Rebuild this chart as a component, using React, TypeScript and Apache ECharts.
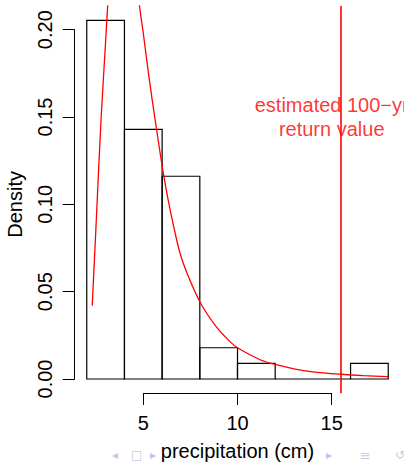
import React, { useEffect, useRef } from "react";
import * as echarts from "echarts";

// Histogram bins (precipitation, cm) and densities
const binEdges = [2, 4, 6, 8, 10, 12, 14, 16, 18];
const densities = [0.2054, 0.1429, 0.1161, 0.0179, 0.0089, 0, 0, 0.0089];

// Fitted density curve
const curveX = [2.29, 2.5, 2.755, 3.0, 3.11, 3.3, 3.5, 3.75, 4.0, 4.25, 4.5, 4.79, 5.0, 5.3, 5.62, 5.9, 6.06, 6.33, 6.6, 6.95, 7.4, 8.05, 8.9, 9.6, 10.04, 11.2, 11.9, 13.0, 14.0, 15.5, 16.7, 18.0];
const curveY = [0.042, 0.0895, 0.148, 0.193, 0.2136, 0.24, 0.26, 0.272, 0.273, 0.265, 0.24, 0.2142, 0.198, 0.173, 0.149, 0.129, 0.118, 0.102, 0.088, 0.072, 0.0585, 0.0432, 0.0295, 0.0214, 0.0176, 0.011, 0.0086, 0.0058, 0.0041, 0.0027, 0.0019, 0.0013];

// Estimated 100-year return value
const returnLevel = 15.49;
const annotation = { x: 15, y: 0.15, text: "estimated 100\u2212yr\nreturn value" };

const FONT = "Liberation Sans, Arial, Helvetica, sans-serif";

export default function App() {
  const ref = useRef<HTMLDivElement>(null);
  useEffect(() => {
    if (!ref.current) return;
    const chart = echarts.init(ref.current, undefined, { renderer: "svg" });
    const bins = densities.map((d, i) => [binEdges[i], binEdges[i + 1], d]);
    const curve = curveX.map((x, i) => [x, curveY[i]]);
    const navColor = "#c6c6e6";
    chart.setOption({
      animation: false,
      backgroundColor: "#ffffff",
      textStyle: { fontFamily: FONT },
      grid: [
        { left: 74.7, right: 3.7, top: 6, bottom: 68.7 },
        { left: 74.7, width: 1, top: 29.7, bottom: 83 },
        { left: 143.3, right: 72.3, top: 380, bottom: 68.7 },
      ],
      xAxis: [
        { gridIndex: 0, type: "value", min: 1.36, max: 18.64, show: false },
        { gridIndex: 1, type: "value", min: 0, max: 1, show: false },
        {
          gridIndex: 2,
          type: "value",
          min: 5,
          max: 15,
          interval: 5,
          axisLine: { show: true, onZero: false, lineStyle: { color: "#000", width: 1 } },
          axisTick: { show: true, length: 12, lineStyle: { color: "#000", width: 1 } },
          axisLabel: { fontSize: 20, color: "#000", margin: 20, fontFamily: FONT },
          splitLine: { show: false },
          name: "precipitation (cm)",
          nameLocation: "middle",
          nameGap: 48,
          nameTextStyle: { fontSize: 20, color: "#000", fontFamily: FONT },
        },
      ],
      yAxis: [
        { gridIndex: 0, type: "value", min: -0.0082, max: 0.2136, show: false },
        {
          gridIndex: 1,
          type: "value",
          min: 0,
          max: 0.2,
          interval: 0.05,
          axisLine: { show: true, onZero: false, lineStyle: { color: "#000", width: 1 } },
          axisTick: { show: true, length: 12, lineStyle: { color: "#000", width: 1 } },
          axisLabel: {
            fontSize: 20,
            color: "#000",
            rotate: 90,
            margin: 20,
            fontFamily: FONT,
            formatter: (v: number) => v.toFixed(2),
          },
          splitLine: { show: false },
          name: "Density",
          nameLocation: "middle",
          nameGap: 50,
          nameTextStyle: { fontSize: 20, color: "#000", fontFamily: FONT },
        },
        { gridIndex: 2, type: "value", min: 0, max: 1, show: false },
      ],
      series: [
        {
          type: "custom",
          xAxisIndex: 0,
          yAxisIndex: 0,
          data: bins,
          encode: { x: [0, 1], y: 2 },
          renderItem: (_p: any, api: any) => {
            const p0 = api.coord([api.value(0), 0]);
            const p1 = api.coord([api.value(1), api.value(2)]);
            return {
              type: "polygon",
              shape: {
                points: [
                  [p0[0], p0[1]],
                  [p0[0], p1[1]],
                  [p1[0], p1[1]],
                  [p1[0], p0[1]],
                ],
              },
              style: { fill: "none", stroke: "#000", lineWidth: 1.2 },
            };
          },
        },
        {
          type: "line",
          xAxisIndex: 0,
          yAxisIndex: 0,
          data: curve,
          showSymbol: false,
          symbol: "none",
          smooth: 0.3,
          clip: true,
          lineStyle: { color: "#ff0000", width: 1.3 },
          markLine: {
            silent: true,
            symbol: ["none", "none"],
            label: { show: false },
            lineStyle: { color: "#ff0000", width: 1.6, type: "solid" },
            data: [{ xAxis: returnLevel }],
          },
        },
        {
          type: "scatter",
          xAxisIndex: 0,
          yAxisIndex: 0,
          data: [[annotation.x, annotation.y]],
          symbolSize: 1,
          itemStyle: { color: "rgba(0,0,0,0)" },
          label: {
            show: true,
            position: "inside",
            formatter: annotation.text,
            color: "#ff0000",
            fontSize: 20,
            lineHeight: 24,
            fontFamily: FONT,
          },
        },
      ],
      graphic: [
        { type: "text", left: 112, top: 449, style: { text: "\u25C2", fontSize: 12, fill: navColor, fontFamily: "DejaVu Sans" } },
        { type: "text", left: 131, top: 449, style: { text: "\u25A1", fontSize: 12, fill: navColor, fontFamily: "DejaVu Sans" } },
        { type: "text", left: 150, top: 449, style: { text: "\u25B8", fontSize: 12, fill: navColor, fontFamily: "DejaVu Sans" } },
        { type: "text", left: 326, top: 449, style: { text: "\u25B8", fontSize: 12, fill: navColor, fontFamily: "DejaVu Sans" } },
        { type: "text", left: 360, top: 449, style: { text: "\u2261", fontSize: 13, fill: navColor, fontFamily: "DejaVu Sans" } },
        { type: "text", left: 395, top: 449, style: { text: "\u21BA", fontSize: 12, fill: navColor, fontFamily: "DejaVu Sans" } },
      ],
    });
    return () => chart.dispose();
  }, []);
  return (
    <div
      ref={ref}
      style={{ position: "absolute", left: 0, top: 0, width: 404, height: 462, background: "#fff" }}
    />
  );
}
